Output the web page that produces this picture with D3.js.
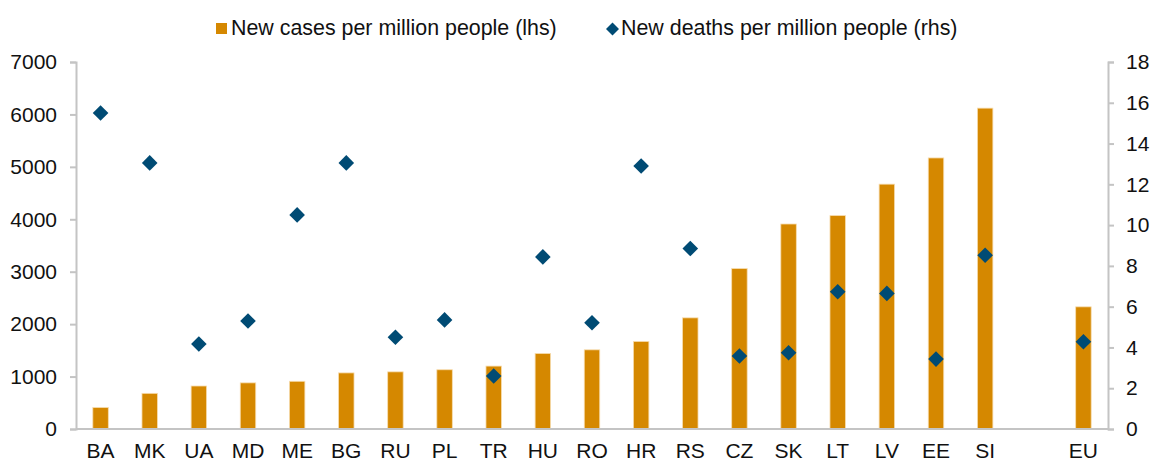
<!DOCTYPE html>
<html>
<head>
<meta charset="utf-8">
<script src="https://cdnjs.cloudflare.com/ajax/libs/d3/7.8.5/d3.min.js"></script>
<style>
  html, body { margin: 0; padding: 0; background: #fff; }
  svg { display: block; font-family: "Liberation Sans", Arial, sans-serif; }
  .axis path, .axis line { stroke: #c4c4c4; stroke-width: 2; }
  .axis text { fill: #111; font-size: 21px; }
</style>
</head>
<body>
<svg id="chart" width="1152" height="461"></svg>
<script>
// countries, " " is the empty slot before the EU bar
const categories = ["BA", "MK", "UA", "MD", "ME", "BG", "RU", "PL", "TR", "HU",
  "RO", "HR", "RS", "CZ", "SK", "LT", "LV", "EE", "SI", " ", "EU"];
const newCases = [410, 680, 820, 880, 910, 1070, 1090, 1130, 1200, 1440,
  1510, 1670, 2120, 3060, 3910, 4070, 4670, 5170, 6120, null, 2330];
const newDeaths = [15.5, 13.05, 4.17, 5.3, 10.5, 13.05, 4.5, 5.35, 2.6, 8.44,
  5.21, 12.9, 8.85, 3.58, 3.74, 6.73, 6.65, 3.43, 8.52, null, 4.28];
const leftTicks = [0, 1000, 2000, 3000, 4000, 5000, 6000, 7000];
const rightTicks = [0, 2, 4, 6, 8, 10, 12, 14, 16, 18];
const legendLabels = ["New cases per million people (lhs)", "New deaths per million people (rhs)"];

const barColor = "#d58800";
const dotColor = "#004b74";

const svg = d3.select("#chart");
const m = { left: 76, right: 1108, top: 62, bottom: 429 };

const x = d3.scaleBand()
  .domain(categories)
  .range([m.left, m.right])
  .paddingInner(0.685)
  .paddingOuter(0.3425);

const yL = d3.scaleLinear().domain([0, 7000]).range([m.bottom, m.top]);
const yR = d3.scaleLinear().domain([0, 18]).range([m.bottom, m.top]);

const rows = categories.map((c, i) => ({ c, cases: newCases[i], deaths: newDeaths[i] }));

// bars
svg.append("g")
  .selectAll("rect")
  .data(rows.filter((d) => d.cases != null))
  .join("rect")
  .attr("x", (d) => x(d.c))
  .attr("width", x.bandwidth())
  .attr("y", (d) => yL(d.cases))
  .attr("height", (d) => yL(0) - yL(d.cases))
  .attr("fill", barColor)
  .attr("stroke", "#f7dcae")
  .attr("stroke-width", 0.8);

// axes
svg.append("g")
  .attr("class", "axis")
  .attr("transform", `translate(${m.left},0)`)
  .call(d3.axisLeft(yL).tickValues(leftTicks).tickSize(6).tickPadding(13).tickSizeOuter(6)
    .tickFormat(d3.format("d")));

svg.append("g")
  .attr("class", "axis")
  .attr("transform", `translate(${m.right},0)`)
  .call(d3.axisRight(yR).tickValues(rightTicks).tickSize(6).tickPadding(12).tickSizeOuter(6));

const xAxis = svg.append("g")
  .attr("class", "axis")
  .attr("transform", `translate(0,${m.bottom})`)
  .call(d3.axisBottom(x).tickSize(0).tickPadding(14).tickSizeOuter(0));
xAxis.select(".domain").attr("d", `M${m.left},0H${m.right}`);

// diamonds
const diamond = d3.symbol(d3.symbolSquare, 122);
svg.append("g")
  .selectAll("path")
  .data(rows.filter((d) => d.deaths != null))
  .join("path")
  .attr("d", diamond)
  .attr("transform", (d) => `translate(${x(d.c) + x.bandwidth() / 2},${yR(d.deaths)}) rotate(45)`)
  .attr("fill", dotColor);

// legend
const legend = svg.append("g").style("font-size", "21.4px").attr("fill", "#111");
legend.append("rect")
  .attr("x", 216).attr("y", 23).attr("width", 11).attr("height", 11)
  .attr("fill", barColor);
legend.append("text").attr("x", 231).attr("y", 34.5).text(legendLabels[0]);
legend.append("path")
  .attr("d", d3.symbol(d3.symbolSquare, 84))
  .attr("transform", "translate(612.5,29) rotate(45)")
  .attr("fill", dotColor);
legend.append("text").attr("x", 621).attr("y", 34.5).text(legendLabels[1]);
</script>
</body>
</html>
